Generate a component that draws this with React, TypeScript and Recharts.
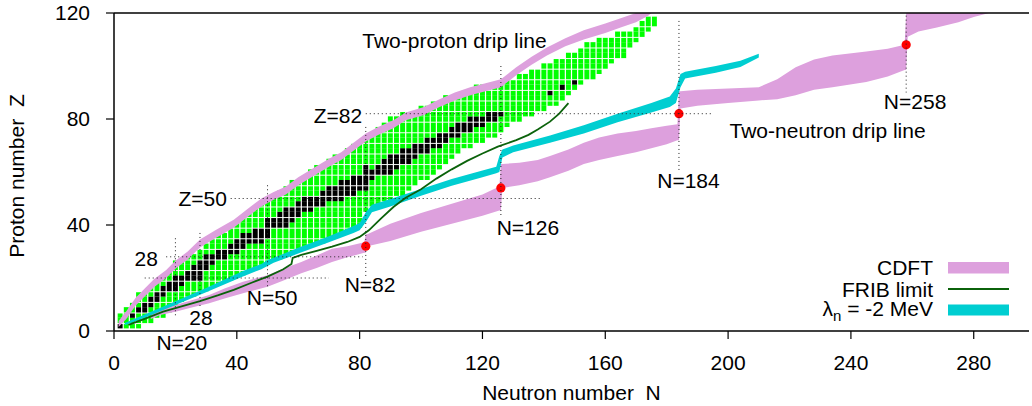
import React from 'react';
import {
  ComposedChart, XAxis, YAxis, Area, Line, Scatter,
  ReferenceLine, ReferenceDot, Legend,
} from 'recharts';

const FONT = '"Liberation Sans", Arial, Helvetica, sans-serif';
const FS = 21;

// ---------- data ----------
const xTicks = [0, 40, 80, 120, 160, 200, 240, 280];
const yTicks = [0, 40, 80, 120];

// even-N columns of experimentally known even-even nuclei (green)
const columnN = [2, 4, 6, 8, 10, 12, 14, 16, 18, 20, 22, 24, 26, 28, 30, 32, 34, 36, 38, 40,
  42, 44, 46, 48, 50, 52, 54, 56, 58, 60, 62, 64, 66, 68, 70, 72, 74, 76, 78, 80,
  82, 84, 86, 88, 90, 92, 94, 96, 98, 100, 102, 104, 106, 108, 110, 112, 114, 116, 118, 120,
  122, 124, 126, 128, 130, 132, 134, 136, 138, 140, 142, 144, 146, 148, 150, 152, 154, 156, 158, 160,
  162, 164, 166, 168, 170, 172, 174, 176];
const greenLo = [2, 2, 2, 2, 4, 4, 6, 6, 8, 10, 12, 14, 14, 16, 16, 18, 18, 20, 20, 22,
  22, 24, 24, 26, 26, 28, 28, 30, 30, 32, 32, 34, 34, 34, 36, 36, 38, 38, 40, 40,
  46, 48, 48, 50, 50, 52, 52, 54, 56, 58, 58, 60, 62, 64, 66, 68, 70, 70, 72, 72,
  74, 74, 76, 78, 80, 80, 82, 82, 84, 84, 86, 86, 88, 90, 92, 94, 96, 96, 98, 100,
  102, 104, 104, 108, 110, 112, 114, 116];
const greenHi = [6, 8, 10, 14, 14, 16, 18, 20, 22, 26, 26, 28, 28, 30, 32, 34, 36, 36, 38, 40,
  42, 44, 46, 48, 50, 50, 52, 54, 56, 56, 58, 60, 62, 62, 64, 66, 66, 68, 70, 70,
  72, 74, 76, 78, 80, 80, 82, 82, 82, 84, 84, 86, 86, 88, 88, 88, 90, 90, 92, 92,
  92, 92, 92, 94, 94, 96, 96, 98, 98, 100, 100, 102, 102, 104, 104, 106, 108, 108, 110, 110,
  110, 112, 112, 112, 114, 116, 118, 118];

// stable (black) even-even nuclei [N, Z]
const stableNuclei: [number, number][] = [
  [2, 2], [6, 6], [8, 8], [10, 8], [10, 10], [12, 10], [12, 12], [14, 12], [14, 14], [16, 14], [16, 16],
  [18, 16], [18, 18], [20, 16], [20, 18], [20, 20], [22, 18], [22, 20], [24, 20], [24, 22], [26, 20],
  [26, 22], [26, 24], [28, 20], [28, 22], [28, 24], [28, 26], [30, 24], [30, 26], [30, 28], [32, 26],
  [32, 28], [34, 28], [34, 30], [36, 28], [36, 30], [38, 30], [38, 32], [40, 30], [40, 32], [40, 34],
  [42, 32], [42, 34], [42, 36], [44, 34], [44, 36], [46, 34], [46, 36], [46, 38], [48, 34], [48, 36],
  [48, 38], [50, 36], [50, 38], [50, 40], [50, 42], [52, 40], [52, 42], [54, 40], [54, 42], [54, 44],
  [56, 40], [56, 42], [56, 44], [56, 46], [58, 42], [58, 44], [58, 46], [60, 44], [60, 46], [60, 48],
  [62, 46], [62, 48], [62, 50], [64, 46], [64, 48], [64, 50], [66, 48], [66, 50], [68, 48], [68, 50],
  [68, 52], [70, 50], [70, 52], [70, 54], [72, 50], [72, 52], [72, 54], [74, 50], [74, 52], [74, 54],
  [74, 56], [76, 52], [76, 54], [76, 56], [78, 52], [78, 54], [78, 56], [78, 58], [80, 54], [80, 56],
  [80, 58], [82, 54], [82, 56], [82, 58], [82, 60], [82, 62], [84, 58], [84, 60], [86, 60], [86, 62],
  [88, 60], [88, 62], [88, 64], [90, 60], [90, 62], [90, 64], [90, 66], [92, 62], [92, 64], [92, 66],
  [94, 64], [94, 66], [94, 68], [96, 64], [96, 66], [96, 68], [98, 66], [98, 68], [98, 70], [100, 68],
  [100, 70], [102, 68], [102, 70], [102, 72], [104, 70], [104, 72], [106, 70], [106, 72], [106, 74],
  [108, 72], [108, 74], [110, 74], [110, 76], [112, 74], [112, 76], [112, 78], [114, 76], [114, 78],
  [116, 76], [116, 78], [116, 80], [118, 78], [118, 80], [120, 78], [120, 80], [122, 80], [122, 82],
  [124, 80], [124, 82], [126, 82], [142, 90], [146, 92], [150, 94],
];

// CDFT two-proton drip line band [N, Zlow, Zhigh]
const protonDripBand: [number, number, number][] = [
  [1.5, 1.5, 3.8], [4, 4.5, 7.5], [7, 9.5, 12.5], [10, 13, 16], [13, 16.5, 19.5], [17, 20, 23],
  [20, 23.5, 26.5], [24, 27, 30], [28, 31.5, 34.5], [33, 35, 38], [39, 39, 42], [44, 43.5, 46.5],
  [48, 47, 50], [52, 49.5, 52.5], [56, 51.5, 54.5], [60, 55, 58], [65, 58.5, 61.5], [70, 62, 65],
  [74, 64.5, 67.5], [78, 68, 71], [82, 71.5, 74.5], [86, 74, 77], [91, 76.5, 79.5], [95, 79.5, 82.5],
  [101, 81.5, 84.5], [106, 84.5, 87.5], [111, 87, 90], [116, 89, 92], [121, 90.5, 93.5], [126, 92, 95],
  [131, 96.5, 99.5], [136, 100.5, 103.5], [141, 104, 107], [147, 107.5, 110.5], [153, 110, 113.5],
  [160, 112.5, 116], [165, 114.5, 118], [170, 116.5, 120], [174, 119, 120], [175, 120, 120],
];

// CDFT two-neutron drip line band [N, Zlow, Zhigh]
const neutronDripBand: [number, number, number][] = [
  [12, 4.5, 6.5], [15, 6, 8], [20, 7.3, 9.8], [25, 8.8, 11.5], [31, 10.5, 13.6], [36, 12.3, 16],
  [42, 14.2, 18.6], [46, 15.5, 19.8], [50, 16.7, 21], [55, 19, 23.5], [61, 21.8, 26], [66, 23.8, 28.5],
  [71, 26, 31], [76, 27.8, 32], [81.5, 29.5, 33.5], [82, 29.5, 36.5], [82.5, 32, 36.5], [90, 34, 40.5],
  [100, 37.5, 44.5], [110, 40.5, 48], [120, 43.5, 51.5], [125.5, 45.5, 54.5], [126, 45.5, 63],
  [126.5, 54, 63], [132, 55, 63.5], [138, 56.5, 64.5], [142, 58, 66], [148, 60.5, 68.5], [153, 63, 71],
  [158, 64.5, 73], [164, 66, 74.5], [170, 67.5, 75.5], [175, 69, 76.5], [180, 70.5, 77.5],
  [183.5, 72, 78], [184, 72, 90.5], [184.5, 84, 90.5], [190, 85, 91], [200, 86, 91.5], [210, 87, 92],
  [216, 87.5, 95], [222, 89, 99.5], [228, 91, 102.5], [234, 92, 104], [245, 94, 105.5],
  [252, 96, 106.5], [257.5, 98.5, 108], [258, 98.5, 120], [258.5, 111, 120], [262, 113, 120],
  [268, 114.5, 120], [275, 116.5, 120], [280, 118.5, 120], [285, 120, 120],
];

// lambda_n = -2 MeV band [N, Zlow, Zhigh]
const lambdaBand: [number, number, number][] = [
  [3.5, 2.2, 3.0], [10, 5.0, 6.2], [20, 9.8, 11.2], [30, 14.6, 16.2], [42, 20.6, 22.6], [48, 23.3, 25.3],
  [50, 24.5, 26.8], [52, 25.8, 27.6], [60, 29.2, 31.4], [70, 33.5, 35.8], [78, 37, 39.6], [80, 38, 40.8],
  [82, 41, 44.8], [84, 44.8, 47.6], [90, 47, 49.8], [100, 51, 53.6], [110, 54.8, 57.4], [120, 58, 60.6],
  [124.5, 59.5, 62], [125.5, 60, 66], [126.5, 65.5, 68.5], [130, 67.5, 70], [142, 71, 73.8],
  [153, 74.5, 77.6], [164, 78.8, 82], [175, 82.5, 86], [181, 84.5, 88.5], [183, 86, 91.5],
  [184.5, 92, 97], [186, 95.3, 97.8], [196, 97.5, 100], [204, 99.6, 102], [210, 103.2, 104.6],
];

// FRIB limit [N, Z]
const fribLimit: [number, number][] = [
  [4.7, 2.3], [10, 4.6], [16, 7.3], [22, 9.3], [28, 11.3], [34, 13.5], [39, 15.5], [45, 18.3],
  [50, 20.5], [55, 23.2], [57.8, 25.3], [58.2, 27.6], [61, 28.7], [66, 30.2], [71, 31.8], [76, 33.6],
  [80, 35.5], [83, 38], [87, 42.5], [91, 46.8], [95, 50.3], [100, 53.5], [105, 57.5], [110, 61],
  [115, 64.2], [120, 67], [125, 69.6], [131, 72], [135, 74], [138, 76], [142, 79], [145, 82], [148, 86],
];

// drip line crossings of magic numbers
const crossings: [number, number][] = [[82, 32], [126, 54], [184, 82], [258, 108]];

// dotted magic-number guides [N1, Z1, N2, Z2]
const guides: [number, number, number, number][] = [
  [82, 82, 195, 82], [38, 50, 139, 50], [17, 28, 81, 28], [10, 20, 70, 20],
  [20, 35, 20, 5], [28, 37, 28, 9], [50, 55, 50, 16], [82, 77, 82, 20],
  [126, 100, 126, 43], [184, 117, 184, 60], [258, 119, 258, 90],
];

// annotations [text, N, Z, anchor]
const annotations: [string, number, number, 'start' | 'middle' | 'end'][] = [
  ['Two-proton drip line', 110.9, 109.8, 'middle'],
  ['Two-neutron drip line', 232.4, 75.8, 'middle'],
  ['Z=82', 80.8, 81.5, 'end'],
  ['Z=50', 36.8, 50.2, 'end'],
  ['28', 14.3, 27.5, 'end'],
  ['28', 28.3, 5.3, 'middle'],
  ['N=50', 51.5, 12.5, 'middle'],
  ['N=82', 83.4, 17.4, 'middle'],
  ['N=126', 134.8, 38.9, 'middle'],
  ['N=184', 187.1, 57, 'middle'],
  ['N=258', 260.9, 86.8, 'middle'],
  ['N=20', 22.1, -4.2, 'middle'],
];

// ---------- derived series ----------
const stableSet = new Set(stableNuclei.map(([n, z]) => `${n},${z}`));
const cells: { x: number; y: number; stable: boolean }[] = [];
columnN.forEach((n, i) => {
  for (let z = greenLo[i]; z <= greenHi[i]; z += 2) {
    cells.push({ x: n, y: z, stable: stableSet.has(`${n},${z}`) });
  }
});
const toBand = (b: [number, number, number][]) => b.map(([x, lo, hi]) => ({ x, r: [lo, hi] }));
const protonData = toBand(protonDripBand);
const neutronData = toBand(neutronDripBand);
const lambdaData = toBand(lambdaBand);
const fribData = fribLimit.map(([x, y]) => ({ x, y }));
const crossData = crossings.map(([x, y]) => ({ x, y }));

const PINK = '#DDA0DD';
const CYAN = '#00CED1';
const FRIB = '#0B620B';

// one even-even nucleus: 2 units wide in N, 2 units tall in Z
const CELL_W = 6.14;
const CELL_H = 5.3;
const CellShape = (p: any) => {
  const z = p.payload.y;
  const gapTop = z % 4 === 2 ? 1 : 0;
  return (
    <rect
      x={p.cx - CELL_W / 2 + 0.6}
      y={p.cy - CELL_H / 2 + gapTop}
      width={CELL_W - 1.2}
      height={CELL_H - gapTop + 0.05}
      fill={p.payload.stable ? '#000000' : '#00FF00'}
    />
  );
};

const DotShape = (p: any) => <circle cx={p.cx} cy={p.cy} r={4.6} fill="#FF0000" />;

const LegendBox = () => (
  <svg width={320} height={70} style={{ display: 'block', overflow: 'visible' }}>
    <g fontFamily={FONT} fontSize={FS} fill="#000">
      <text x={233} y={15.5} dy="0.36em" textAnchor="end">CDFT</text>
      <rect x={248} y={10} width={61} height={11.5} fill={PINK} />
      <text x={233} y={37} dy="0.36em" textAnchor="end">FRIB limit</text>
      <line x1={248} x2={309} y1={37} y2={37} stroke={FRIB} strokeWidth={2} />
      <text x={233} y={56} dy="0.36em" textAnchor="end">
        <tspan>λ</tspan>
        <tspan dy={5} fontSize={15}>n</tspan>
        <tspan dy={-5}> = -2 MeV</tspan>
      </text>
      <rect x={248} y={52.5} width={61} height={11} fill={CYAN} />
    </g>
  </svg>
);

export default function App() {
  return (
    <div style={{ position: 'absolute', left: 0, top: 0, width: 1032, height: 406, background: '#fff' }}>
      <ComposedChart width={1032} height={406} margin={{ top: 0, right: 3, bottom: 0, left: 0 }}>
        <XAxis
          xAxisId="top"
          orientation="top"
          type="number"
          dataKey="x"
          domain={[0, 298]}
          ticks={xTicks}
          tick={false}
          tickSize={8}
          height={13}
          axisLine={{ stroke: '#000', strokeWidth: 1.5 }}
          tickLine={{ stroke: '#000', strokeWidth: 1.2 }}
          allowDataOverflow
        />
        <XAxis
          type="number"
          dataKey="x"
          domain={[0, 298]}
          ticks={xTicks}
          allowDataOverflow
          tickSize={8}
          tickMargin={16}
          height={75}
          axisLine={{ stroke: '#000', strokeWidth: 1.5 }}
          tickLine={{ stroke: '#000', strokeWidth: 1.2 }}
          tick={{ fill: '#000', fontSize: FS, fontFamily: FONT }}
          label={{
            content: (props: any) => {
              const vb = props.viewBox;
              return (
                <text x={vb.x + vb.width / 2} y={392} dy="0.36em" textAnchor="middle"
                  fontSize={FS} fontFamily={FONT} fill="#000" style={{ whiteSpace: 'pre' }}>
                  {'Neutron number  N'}
                </text>
              );
            },
          }}
        />
        <YAxis
          type="number"
          domain={[0, 120]}
          ticks={yTicks}
          allowDataOverflow
          width={114}
          tickSize={8}
          tickMargin={16}
          axisLine={{ stroke: '#000', strokeWidth: 1.5 }}
          tickLine={{ stroke: '#000', strokeWidth: 1.2 }}
          tick={{ fill: '#000', fontSize: FS, fontFamily: FONT }}
          label={{
            content: (props: any) => {
              const vb = props.viewBox;
              const cx = 16;
              const cy = vb.y + vb.height / 2 + 4;
              return (
                <text x={cx} y={cy} dy="0.36em" textAnchor="middle" transform={`rotate(-90 ${cx} ${cy})`}
                  fontSize={FS} fontFamily={FONT} fill="#000" style={{ whiteSpace: 'pre' }}>
                  {'Proton number  Z'}
                </text>
              );
            },
          }}
        />

        {guides.map(([n1, z1, n2, z2], i) => (
          <ReferenceLine
            key={`g${i}`}
            segment={[{ x: n1, y: z1 }, { x: n2, y: z2 }]}
            stroke="#222"
            strokeWidth={1}
            strokeDasharray="1 3"
            ifOverflow="visible"
          />
        ))}

        <Scatter data={cells} dataKey="y" shape={CellShape} isAnimationActive={false} zIndex={50} />

        <Area data={protonData} dataKey="r" type="linear" fill={PINK} fillOpacity={1} stroke="none"
          isAnimationActive={false} dot={false} activeDot={false} zIndex={120} />
        <Area data={neutronData} dataKey="r" type="linear" fill={PINK} fillOpacity={1} stroke="none"
          isAnimationActive={false} dot={false} activeDot={false} zIndex={120} />
        <Area data={lambdaData} dataKey="r" type="linear" fill={CYAN} fillOpacity={1} stroke="none"
          isAnimationActive={false} dot={false} activeDot={false} zIndex={130} />
        <Line data={fribData} dataKey="y" type="linear" stroke={FRIB} strokeWidth={1.8} dot={false}
          activeDot={false} isAnimationActive={false} zIndex={140} />
        <Scatter data={crossData} dataKey="y" shape={DotShape} isAnimationActive={false} zIndex={150} />

        {annotations.map(([text, n, z, anchor], i) => (
          <ReferenceDot
            key={`a${i}`}
            x={n}
            y={z}
            r={0}
            ifOverflow="visible"
            shape={(p: any) => (
              <text x={p.cx} y={p.cy} dy="0.36em" textAnchor={anchor} fontSize={FS}
                fontFamily={FONT} fill="#000">
                {text}
              </text>
            )}
          />
        ))}

        <Legend
          layout="vertical"
          align="center"
          verticalAlign="middle"
          wrapperStyle={{ position: 'absolute', left: 700, top: 252, width: 320, height: 70 }}
          content={() => <LegendBox />}
        />
      </ComposedChart>
    </div>
  );
}
